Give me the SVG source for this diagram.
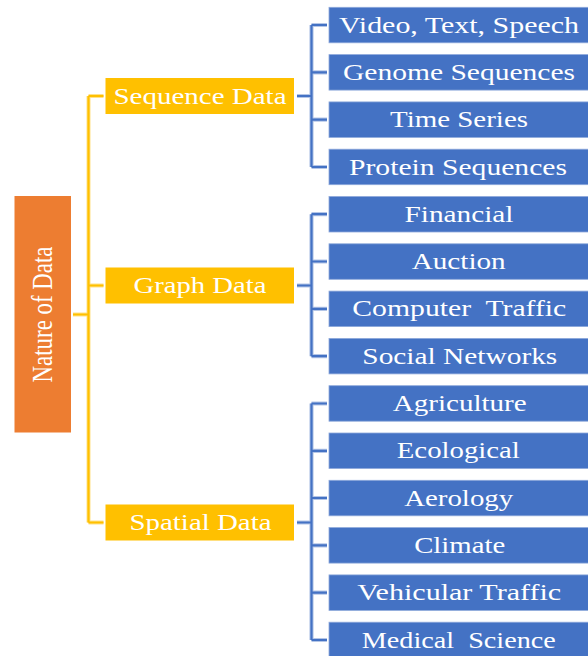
<svg xmlns="http://www.w3.org/2000/svg" xmlns:xlink="http://www.w3.org/1999/xlink" width="588" height="656" viewBox="0 0 588 656" xml:space="preserve">
  <style>
    text { font-family: "Liberation Serif", "Times New Roman", serif; font-size: 24px; fill: #ffffff; text-anchor: middle; white-space: pre; }
    .root { fill: #ED7D31; }
    .mid { fill: #FFC000; }
    .leaf { fill: #4472C4; stroke: #8EA9DB; stroke-width: 0.8; }
    .ylw { fill: none; stroke: #FFC000; stroke-width: 2.2; }
    .ylw-halo { fill: none; stroke: #FFE28A; stroke-width: 4; }
    .blu { fill: none; stroke: #4472C4; stroke-width: 2.2; }
    .blu-halo { fill: none; stroke: #B4C6E7; stroke-width: 4.2; }
  </style>
  <defs>
    <!-- yellow trunk: root to the three categories -->
    <path id="trunk" d="M73,314.5 H88.5 M88.5,96 V522.5 M88.5,96 H103.5 M88.5,285.5 H103.5 M88.5,522.5 H103.5"/>
    <!-- blue brackets: category to its items -->
    <path id="seqBr" d="M297,96 H311.5 M311.5,25 V167 M311.5,25 H327 M311.5,72.3 H327 M311.5,119.6 H327 M311.5,167 H327"/>
    <path id="grBr" d="M297,285.5 H311.5 M311.5,214.2 V356.2 M311.5,214.2 H327 M311.5,261.5 H327 M311.5,308.8 H327 M311.5,356.2 H327"/>
    <path id="spBr" d="M297,522.5 H311.5 M311.5,403.5 V640 M311.5,403.5 H327 M311.5,450.8 H327 M311.5,498 H327 M311.5,545.4 H327 M311.5,592.6 H327 M311.5,640 H327"/>
  </defs>

  <g id="connectors">
    <use xlink:href="#trunk" class="ylw-halo"/>
    <use xlink:href="#trunk" class="ylw"/>
    <use xlink:href="#seqBr" class="blu-halo"/>
    <use xlink:href="#grBr" class="blu-halo"/>
    <use xlink:href="#spBr" class="blu-halo"/>
    <use xlink:href="#seqBr" class="blu"/>
    <use xlink:href="#grBr" class="blu"/>
    <use xlink:href="#spBr" class="blu"/>
  </g>

  <g id="nature-of-data">
    <rect class="root" x="14.5" y="196" width="56.5" height="236.5"/>
    <text transform="translate(51.5,314.5) scale(1.2,1) rotate(-90)" x="0" y="0" textLength="136" lengthAdjust="spacingAndGlyphs">Nature of Data</text>
  </g>

  <g id="sequence-data">
    <rect class="mid" x="105.5" y="78" width="188.5" height="36"/>
    <text x="200" y="103.6" textLength="173" lengthAdjust="spacingAndGlyphs">Sequence Data</text>
  </g>
  <g id="graph-data">
    <rect class="mid" x="105.5" y="267.5" width="188.5" height="36"/>
    <text x="200" y="293.1" textLength="133" lengthAdjust="spacingAndGlyphs">Graph Data</text>
  </g>
  <g id="spatial-data">
    <rect class="mid" x="105.5" y="504.5" width="188.5" height="36"/>
    <text x="200.5" y="530.1" textLength="142" lengthAdjust="spacingAndGlyphs">Spatial Data</text>
  </g>

  <g id="video-text-speech">
    <rect class="leaf" x="329" y="7.3" width="262" height="35.5"/>
    <text x="459" y="32.6" textLength="240" lengthAdjust="spacingAndGlyphs">Video, Text, Speech</text>
  </g>
  <g id="genome-sequences">
    <rect class="leaf" x="329" y="54.6" width="262" height="35.5"/>
    <text x="459" y="79.9" textLength="232" lengthAdjust="spacingAndGlyphs">Genome Sequences</text>
  </g>
  <g id="time-series">
    <rect class="leaf" x="329" y="101.9" width="262" height="35.5"/>
    <text x="459" y="127.2" textLength="138" lengthAdjust="spacingAndGlyphs">Time Series</text>
  </g>
  <g id="protein-sequences">
    <rect class="leaf" x="329" y="149.2" width="262" height="35.5"/>
    <text x="458" y="174.5" textLength="218" lengthAdjust="spacingAndGlyphs">Protein Sequences</text>
  </g>

  <g id="financial">
    <rect class="leaf" x="329" y="196.5" width="262" height="35.5"/>
    <text x="459" y="221.8" textLength="109" lengthAdjust="spacingAndGlyphs">Financial</text>
  </g>
  <g id="auction">
    <rect class="leaf" x="329" y="243.8" width="262" height="35.5"/>
    <text x="458.7" y="269.1" textLength="94" lengthAdjust="spacingAndGlyphs">Auction</text>
  </g>
  <g id="computer-traffic">
    <rect class="leaf" x="329" y="291.1" width="262" height="35.5"/>
    <text x="459.3" y="316.4" textLength="214" lengthAdjust="spacingAndGlyphs">Computer  Traffic</text>
  </g>
  <g id="social-networks">
    <rect class="leaf" x="329" y="338.4" width="262" height="35.5"/>
    <text x="459.8" y="363.7" textLength="195" lengthAdjust="spacingAndGlyphs">Social Networks</text>
  </g>

  <g id="agriculture">
    <rect class="leaf" x="329" y="385.7" width="262" height="35.5"/>
    <text x="459.7" y="411" textLength="134" lengthAdjust="spacingAndGlyphs">Agriculture</text>
  </g>
  <g id="ecological">
    <rect class="leaf" x="329" y="433" width="262" height="35.5"/>
    <text x="458.3" y="458.3" textLength="123" lengthAdjust="spacingAndGlyphs">Ecological</text>
  </g>
  <g id="aerology">
    <rect class="leaf" x="329" y="480.3" width="262" height="35.5"/>
    <text x="458.7" y="505.6" textLength="109" lengthAdjust="spacingAndGlyphs">Aerology</text>
  </g>
  <g id="climate">
    <rect class="leaf" x="329" y="527.6" width="262" height="35.5"/>
    <text x="459.7" y="552.9" textLength="91" lengthAdjust="spacingAndGlyphs">Climate</text>
  </g>
  <g id="vehicular-traffic">
    <rect class="leaf" x="329" y="574.9" width="262" height="35.5"/>
    <text x="459.2" y="600.2" textLength="204" lengthAdjust="spacingAndGlyphs">Vehicular Traffic</text>
  </g>
  <g id="medical-science">
    <rect class="leaf" x="329" y="622.2" width="262" height="36"/>
    <text x="458.8" y="647.5" textLength="194" lengthAdjust="spacingAndGlyphs">Medical  Science</text>
  </g>
</svg>
